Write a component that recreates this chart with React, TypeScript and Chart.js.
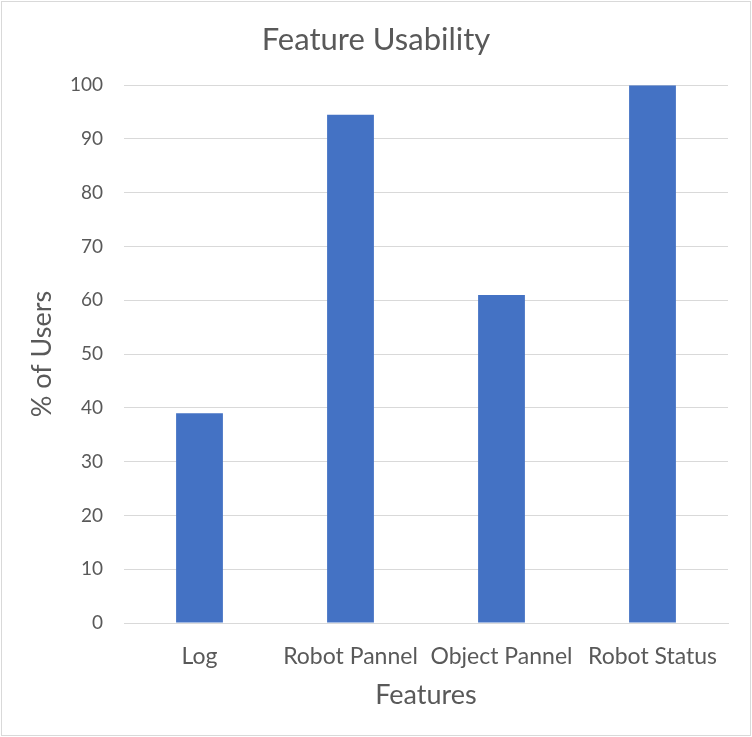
import React, { useEffect, useRef } from "react";
import { Chart, registerables } from "chart.js";

Chart.register(...registerables);

const categories = ["Log", "Robot Pannel", "Object Pannel", "Robot Status"];
const usersPct = [39, 94.5, 61, 100];
const yTicks = [0, 10, 20, 30, 40, 50, 60, 70, 80, 90, 100];

const FONT = "Lato, 'Open Sans', sans-serif";
const TEXT = "#595959";
const GRID = "#d9d9d9";

const borderPlugin = {
  id: "outerBorder",
  beforeDraw(chart: any) {
    const { ctx, width, height } = chart;
    ctx.save();
    ctx.fillStyle = "#ffffff";
    ctx.fillRect(0, 0, width, height);
    ctx.strokeStyle = "#d9d9d9";
    ctx.lineWidth = 1;
    ctx.strokeRect(1.5, 1.5, width - 3, height - 3);
    ctx.restore();
  },
};

export default function App() {
  const ref = useRef<HTMLCanvasElement>(null);
  useEffect(() => {
    document.body.style.margin = "0";
    const chart = new Chart(ref.current!, {
      type: "bar",
      data: {
        labels: categories,
        datasets: [
          {
            data: usersPct,
            backgroundColor: "#4472C4",
            categoryPercentage: 1,
            barPercentage: 0.31,
          },
        ],
      },
      options: {
        animation: false,
        responsive: false,
        layout: { padding: { left: 0, right: 0, top: 12, bottom: 0 } },
        plugins: {
          legend: { display: false },
          tooltip: { enabled: false },
          title: {
            display: true,
            text: "Feature Usability",
            color: TEXT,
            font: { family: FONT, size: 31, weight: "normal" },
            padding: { top: 9, bottom: 27 },
          },
        },
        scales: {
          x: {
            afterFit: (axis: any) => {
              axis.height = 114;
            },
            grid: { display: false, drawTicks: false },
            border: { display: true, color: GRID, width: 1 },
            ticks: {
              color: TEXT,
              font: { family: FONT, size: 23 },
              padding: 20,
              maxRotation: 0,
            },
            title: {
              display: true,
              text: "Features",
              color: TEXT,
              font: { family: FONT, size: 27 },
              padding: { top: 0, bottom: 26 },
            },
          },
          y: {
            min: 0,
            max: 100,
            afterFit: (axis: any) => {
              axis.width = 124;
            },
            afterBuildTicks: (axis: any) => {
              axis.ticks = yTicks.map((v) => ({ value: v }));
            },
            grid: { color: GRID, lineWidth: 1, drawTicks: false },
            border: { display: false },
            ticks: {
              color: TEXT,
              font: { family: FONT, size: 19 },
              padding: 21,
            },
            title: {
              display: true,
              text: "% of Users",
              color: TEXT,
              font: { family: FONT, size: 27 },
              padding: { top: 26, bottom: 0 },
            },
          },
          yRight: {
            position: "right",
            min: 0,
            max: 100,
            afterFit: (axis: any) => {
              axis.width = 24;
            },
            grid: { display: false, drawTicks: false },
            border: { display: false },
            ticks: { display: false },
          },
        },
      },
      plugins: [borderPlugin],
    });
    return () => chart.destroy();
  }, []);
  return <canvas ref={ref} width={752} height={737} style={{ display: "block" }} />;
}
